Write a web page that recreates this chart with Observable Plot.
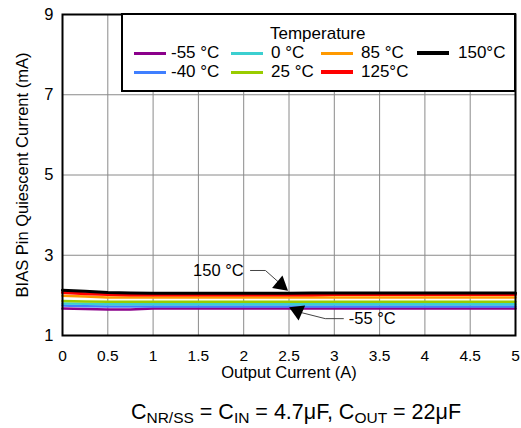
<!DOCTYPE html>
<html><head><meta charset="utf-8">
<script src="https://cdn.jsdelivr.net/npm/d3@7"></script>
<script src="https://cdn.jsdelivr.net/npm/@observablehq/plot@0.6"></script>
<style>
body{margin:0;background:#fff;font-family:"Liberation Sans",Arial,sans-serif;}
#wrap{position:relative;width:521px;height:428px;overflow:hidden;}
#legend{position:absolute;left:121px;top:13px;width:395px;height:79px;box-sizing:border-box;border:2px solid #000;background:#fff;}
#legend .t{position:absolute;font-size:17px;line-height:20px;height:20px;white-space:nowrap;color:#000;}
#legend .s{position:absolute;}
#caption{position:absolute;left:71px;top:397px;width:450px;text-align:center;font-size:21.5px;line-height:30px;color:#000;}
#caption sub{font-size:15.5px;vertical-align:-4px;line-height:0;}
</style></head><body>
<div id="wrap"><div id="chart"></div><div id="legend"></div>
<div id="caption">C<sub>NR/SS</sub> = C<sub>IN</sub> = 4.7μF, C<sub>OUT</sub> = 22μF</div></div>
<script>
// Output current (A)
const outputCurrent = [0, 0.25, 0.5, 0.75, 1, 1.5, 2, 2.5, 2.75, 3, 3.5, 4, 4.5, 5];
// Temperature series labels / colours
const temps = ["-55 °C", "-40 °C", "0 °C", "25 °C", "85 °C", "125°C", "150°C"];
const colors = ["#8B008B", "#3F7FFF", "#3CCFD0", "#99CC00", "#FF9900", "#FF0000", "#000000"];
// BIAS pin quiescent current (mA) per temperature
const iq_m55 = [1.67, 1.66, 1.65, 1.65, 1.67, 1.67, 1.67, 1.67, 1.67, 1.67, 1.67, 1.67, 1.67, 1.67];
const iq_m40 = [1.75, 1.73, 1.72, 1.72, 1.72, 1.72, 1.72, 1.72, 1.72, 1.72, 1.72, 1.72, 1.72, 1.72];
const iq_0   = [1.80, 1.79, 1.78, 1.78, 1.78, 1.78, 1.78, 1.78, 1.78, 1.78, 1.78, 1.78, 1.78, 1.78];
const iq_25  = [1.86, 1.85, 1.84, 1.84, 1.84, 1.84, 1.84, 1.84, 1.84, 1.84, 1.84, 1.84, 1.84, 1.84];
const iq_85  = [1.99, 1.97, 1.95, 1.95, 1.95, 1.95, 1.95, 1.95, 1.95, 1.95, 1.95, 1.95, 1.95, 1.95];
const iq_125 = [2.07, 2.04, 2.02, 2.01, 2.01, 2.01, 2.01, 2.01, 2.01, 2.02, 2.02, 2.02, 2.02, 2.02];
const iq_150 = [2.13, 2.10, 2.07, 2.06, 2.05, 2.05, 2.05, 2.05, 2.06, 2.06, 2.06, 2.06, 2.06, 2.06];
const series = [iq_m55, iq_m40, iq_0, iq_25, iq_85, iq_125, iq_150];
const lineWidths = [2.5, 2.5, 2.5, 2.5, 2.5, 3, 3];
// Axis ticks
const xTicks = [0, 0.5, 1, 1.5, 2, 2.5, 3, 3.5, 4, 4.5, 5];
const yTicks = [1, 3, 5, 7, 9];
// Annotations (data units)
const annoLabels = ["150 °C", "-55 °C"];
const annoTextX = [2.0, 3.16];
const annoTextY = [2.61, 1.42];
const leaderX = [[2.075, 2.24, 2.40], [3.10, 2.90, 2.62]];
const leaderY = [[2.62, 2.62, 2.30], [1.42, 1.42, 1.58]];
const headX = [2.41, 2.595];
const headY = [2.264, 1.608];
const headAngle = [130, -66];

const rows = [];
series.forEach((vals, i) => vals.forEach((v, j) => rows.push({x: outputCurrent[j], y: v, t: temps[i], i})));
const leaders = [];
leaderX.forEach((xs, k) => xs.forEach((x, j) => leaders.push({x, y: leaderY[k][j], k})));
const heads = headX.map((x, k) => ({x, y: headY[k], a: headAngle[k]}));
const texts = annoLabels.map((l, k) => ({l, x: annoTextX[k], y: annoTextY[k]}));

const chart = Plot.plot({
  width: 521, height: 390,
  marginTop: 14, marginBottom: 55, marginLeft: 62, marginRight: 6,
  style: {fontFamily: '"Liberation Sans", Arial, sans-serif', fontSize: "15.5px", color: "#000", background: "#fff"},
  x: {domain: [0, 5]},
  y: {domain: [1, 9]},
  marks: [
    Plot.gridX(xTicks, {stroke: "#8a8a8a", strokeOpacity: 1, strokeWidth: 1}),
    Plot.gridY([3, 5, 7], {stroke: "#8a8a8a", strokeOpacity: 1, strokeWidth: 1}),
    ...series.map((_, i) => Plot.line(rows.filter(r => r.i === i), {x: "x", y: "y", stroke: colors[i], strokeWidth: lineWidths[i]})),
    Plot.frame({stroke: "#000", strokeWidth: 2}),
    Plot.axisX(xTicks, {tickSize: 0, tickPadding: 14, tickFormat: d => String(d), label: null, fontSize: 15.5}),
    Plot.axisX({tickSize: 0, ticks: [], label: "Output Current (A)", labelAnchor: "center", labelOffset: 42, labelArrow: "none", fontSize: 16.5}),
    Plot.axisY(yTicks, {tickSize: 0, tickPadding: 9, tickFormat: d => String(d), label: "BIAS Pin Quiescent Current (mA)", labelAnchor: "center", labelOffset: 46, labelArrow: "none", fontSize: 16.5}),
    Plot.line(leaders, {x: "x", y: "y", z: "k", stroke: "#444", strokeWidth: 1}),
    Plot.dot(heads, {x: "x", y: "y", symbol: "triangle", r: 6, fill: "#000", stroke: "none", rotate: "a"}),
    Plot.text(texts.slice(0, 1), {x: "x", y: "y", text: "l", textAnchor: "end", fontSize: 16.5, fill: "#000"}),
    Plot.text(texts.slice(1), {x: "x", y: "y", text: "l", textAnchor: "start", fontSize: 16.5, fill: "#000"})
  ]
});
document.getElementById("chart").appendChild(chart);

// Legend
const lg = document.getElementById("legend");
const ox = 123, oy = 15; // inner origin of legend box (page coords)
const title = document.createElement("div");
title.className = "t"; title.textContent = "Temperature";
title.style.left = (318 - ox - 48) + "px"; title.style.top = (34 - oy - 10) + "px";
lg.appendChild(title);
const order = [[0, 0, 0], [1, 0, 1], [2, 1, 0], [3, 1, 1], [4, 2, 0], [5, 2, 1], [6, 3, 0]];
const swX = [134, 231, 321, 417], txX = [171, 271, 361, 458], rowY = [53, 72];
order.forEach(([i, c, r]) => {
  const s = document.createElement("div");
  s.className = "s";
  const h = lineWidths[i] >= 3 ? 4 : 3;
  s.style.left = (swX[c] - ox) + "px"; s.style.width = "32px";
  s.style.top = (rowY[r] - oy - h / 2) + "px"; s.style.height = h + "px";
  s.style.background = colors[i];
  lg.appendChild(s);
  const t = document.createElement("div");
  t.className = "t"; t.textContent = temps[i];
  t.style.left = (txX[c] - ox) + "px"; t.style.top = (rowY[r] - oy - 10) + "px";
  lg.appendChild(t);
});
</script>
</body></html>
